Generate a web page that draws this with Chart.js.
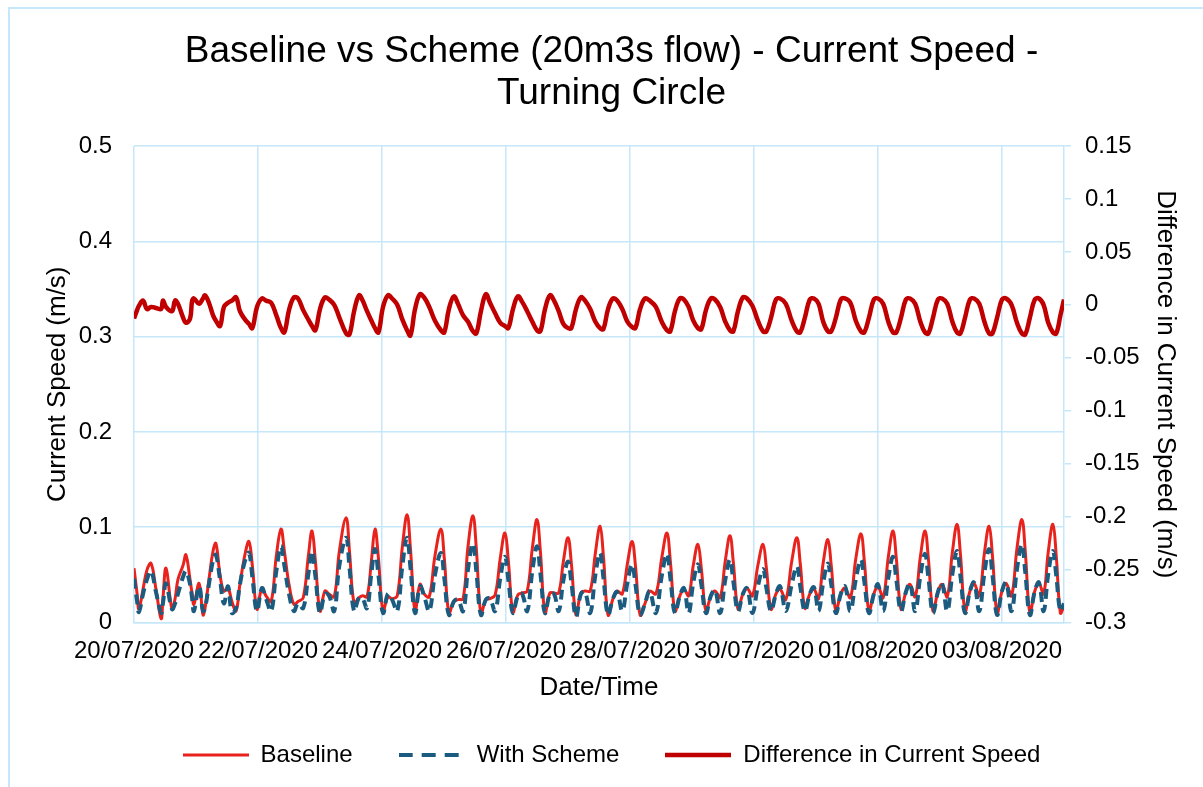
<!DOCTYPE html>
<html>
<head>
<meta charset="utf-8">
<script src="https://cdn.jsdelivr.net/npm/chart.js@4"></script>
<style>
  html, body { margin: 0; padding: 0; background: #fff; }
  #wrap { position: relative; width: 1203px; height: 787px; overflow: hidden; }
  #frame { position: absolute; left: 8px; top: 7px; width: 1400px; height: 1000px;
           border-left: 2px solid #c5e7f9; border-top: 2px solid #c5e7f9; }
  canvas { position: absolute; left: 0; top: 0; }
</style>
</head>
<body>
<div id="wrap">
  <div id="frame"></div>
  <canvas id="chart" width="1203" height="787"></canvas>
</div>
<script>
// chart text
const titleLines = ['Baseline vs Scheme (20m3s flow) - Current Speed -', 'Turning Circle'];
const seriesNames = ['Baseline', 'With Scheme', 'Difference in Current Speed'];

// x axis: hours since 20/07/2020 00:00
const xTickHours = [0, 48, 96, 144, 192, 240, 288, 336];
const xTickLabels = ['20/07/2020', '22/07/2020', '24/07/2020', '26/07/2020',
                     '28/07/2020', '30/07/2020', '01/08/2020', '03/08/2020'];
const leftTicks = [0, 0.1, 0.2, 0.3, 0.4, 0.5];
const leftTickLabels = ['0', '0.1', '0.2', '0.3', '0.4', '0.5'];
const rightTicks = [-0.3, -0.25, -0.2, -0.15, -0.1, -0.05, 0, 0.05, 0.1, 0.15];
const rightTickLabels = ['-0.3', '-0.25', '-0.2', '-0.15', '-0.1', '-0.05', '0', '0.05', '0.1', '0.15'];

// sample times (hours)
const hours = [
  0, 1.2, 1.9, 3.5, 5.0, 6.6, 8.5, 10.5, 11.2, 12.4, 14.7, 15.9, 17.0, 19.0, 20.1, 21.7,
  22.5, 23.2, 25.2, 26.7, 27.5, 29.0, 30.6, 31.7, 33.3, 34.8, 36.4, 37.9, 39.5, 41.0, 43.0,
  44.5, 45.8, 47.6, 49.5, 51.1, 53.1, 55.1,
  56.9, 58.2, 60.0, 61.9, 63.5, 65.5, 67.5,
  68.9, 70.2, 72.0, 73.9, 75.5, 77.5, 79.5,
  82.1, 83.4, 85.2, 87.1, 88.5, 90.2, 91.9,
  93.3, 94.6, 96.4, 98.3, 99.9, 101.9, 103.9,
  105.7, 107.0, 108.8, 110.7, 112.3, 114.3, 116.5,
  118.8, 120.1, 121.9, 123.8, 125.4, 127.4, 129.3,
  131.2, 132.5, 134.3, 136.2, 137.8, 139.8, 141.8,
  143.6, 144.9, 146.7, 148.6, 150.2, 152.2, 154.2,
  156.0, 157.3, 159.1, 161.0, 162.6, 164.4, 166.2,
  168.0, 169.3, 171.1, 173.0, 174.6, 176.6, 178.6,
  180.4, 181.7, 183.5, 185.4, 187.0, 189.0, 191.0,
  192.8, 194.1, 195.9, 197.8, 199.6, 202.0, 204.3,
  206.3, 207.6, 209.4, 211.3, 212.9, 214.7, 216.5,
  218.3, 219.6, 221.4, 223.3, 224.9, 226.9, 228.9,
  230.7, 232.0, 233.8, 235.7, 237.3, 239.4, 241.5,
  243.5, 244.8, 246.6, 248.5, 250.1, 252.3, 254.6,
  256.6, 257.9, 259.7, 261.6, 263.2, 265.0, 266.8,
  268.6, 269.9, 271.7, 273.6, 275.2, 277.3, 279.4,
  281.4, 282.7, 284.5, 286.4, 288.0, 290.0, 292.0,
  293.8, 295.1, 296.9, 298.8, 300.4, 302.4, 304.4,
  306.2, 307.5, 309.3, 311.2, 312.8, 314.8, 316.8,
  318.6, 319.9, 321.7, 323.6, 325.2, 327.2, 329.2,
  331.0, 332.3, 334.1, 336.0, 337.6, 339.7, 341.8,
  343.7, 345.0, 346.8, 348.7, 350.3, 352.1, 353.9,
  355.7, 357.0, 358.6, 360.0
];

// current speed (m/s), left axis
const baseline = [
  .057, .030, .014, .035, .055, .062, .035, .004, .025, .057, .014, .025, .045, .060, .071, .045,
  .030, .019, .041, .008, .015, .045, .075, .083, .050, .033, .036, .022, .012, .040, .072,
  .085, .060, .014, .036, .028, .022, .070,
  .098, .075, .040, .019, .022, .026, .070,
  .096, .065, .012, .033, .030, .027, .075,
  .110, .075, .020, .026, .028, .027, .065,
  .098, .068, .012, .027, .025, .028, .080,
  .113, .078, .012, .040, .030, .027, .070,
  .098, .068, .010, .022, .024, .025, .080,
  .112, .078, .009, .024, .025, .029, .068,
  .094, .065, .011, .029, .031, .033, .078,
  .108, .075, .010, .031, .031, .031, .064,
  .089, .062, .008, .031, .033, .033, .073,
  .101, .070, .008, .025, .033, .030, .062,
  .085, .060, .008, .020, .033, .030, .068,
  .094, .065, .012, .028, .035, .028, .060,
  .082, .057, .012, .028, .033, .026, .065,
  .091, .063, .014, .030, .036, .028, .060,
  .082, .057, .014, .030, .035, .024, .064,
  .089, .062, .015, .030, .035, .025, .063,
  .087, .060, .012, .030, .036, .026, .067,
  .093, .065, .012, .030, .038, .026, .069,
  .096, .067, .014, .032, .040, .027, .069,
  .096, .067, .012, .032, .040, .027, .074,
  .103, .072, .012, .033, .041, .028, .073,
  .101, .070, .010, .033, .041, .028, .078,
  .108, .075, .010, .033, .041, .030, .074,
  .103, .070, .010, .017
];

const withScheme = [
  .046, .022, .011, .030, .045, .054, .032, .010, .020, .041, .014, .020, .030, .048, .054, .040,
  .025, .012, .038, .012, .015, .040, .065, .071, .045, .020, .038, .010, .015, .040, .065,
  .073, .048, .012, .036, .025, .012, .054,
  .080, .060, .030, .012, .020, .015, .051,
  .075, .049, .010, .030, .028, .012, .060,
  .089, .058, .012, .026, .025, .015, .052,
  .077, .050, .010, .030, .024, .012, .060,
  .089, .058, .010, .038, .028, .012, .050,
  .073, .047, .008, .022, .024, .012, .056,
  .083, .054, .008, .024, .025, .012, .047,
  .069, .045, .010, .028, .030, .012, .054,
  .080, .052, .010, .030, .030, .012, .044,
  .064, .042, .006, .030, .032, .010, .050,
  .073, .047, .008, .025, .032, .012, .042,
  .061, .040, .008, .020, .033, .010, .049,
  .072, .047, .010, .028, .036, .010, .042,
  .061, .040, .010, .028, .034, .010, .045,
  .066, .043, .012, .030, .036, .010, .038,
  .056, .036, .012, .030, .038, .012, .040,
  .059, .038, .012, .030, .037, .012, .042,
  .062, .040, .010, .030, .038, .012, .045,
  .066, .043, .010, .030, .040, .012, .047,
  .069, .045, .012, .032, .041, .012, .049,
  .072, .047, .010, .032, .041, .012, .051,
  .075, .049, .010, .033, .042, .012, .052,
  .077, .050, .008, .033, .042, .012, .056,
  .082, .053, .008, .033, .042, .012, .051,
  .075, .049, .012, .020
];

// difference in current speed (m/s), right axis
const difference = [
  -.013, -.005, -.001, .004, -.004, -.002, -.003, -.004, .004, -.002, -.006, .004, .001, -.012, -.017, -.013,
  .004, .006, .001, .006, .009, .002, -.010, -.015, -.020, -.002, .002, .004, .007, -.006, -.014,
  -.018, -.022, -.002, .006, .004, .002, -.010,
  -.022, -.026, -.005, .007, .006, -.005, -.014,
  -.020, -.024, -.004, .007, .005, .000, -.012,
  -.027, -.028, -.006, .009, .004, -.006, -.015,
  -.022, -.026, -.002, .009, .006, .000, -.014,
  -.024, -.029, -.004, .010, .007, -.002, -.015,
  -.024, -.026, -.004, .008, .001, -.010, -.016,
  -.025, -.027, -.006, .010, .002, -.008, -.017,
  -.020, -.022, -.004, .008, .003, -.006, -.016,
  -.024, -.025, -.004, .009, .004, -.006, -.018,
  -.022, -.022, -.004, .007, .004, -.004, -.016,
  -.022, -.023, -.004, .006, .004, -.004, -.016,
  -.021, -.022, -.004, .006, .004, -.002, -.016,
  -.024, -.025, -.006, .006, .005, -.002, -.015,
  -.022, -.023, -.005, .006, .005, -.002, -.016,
  -.024, -.025, -.006, .007, .006, -.001, -.015,
  -.025, -.025, -.012, .005, .006, .001, -.015,
  -.025, -.026, -.012, .005, .006, .001, -.016,
  -.025, -.025, -.012, .005, .006, .002, -.015,
  -.025, -.026, -.012, .005, .006, .001, -.016,
  -.026, -.026, -.012, .005, .006, .001, -.016,
  -.026, -.027, -.012, .005, .006, .001, -.016,
  -.026, -.027, -.012, .005, .006, .001, -.016,
  -.027, -.027, -.012, .005, .006, .000, -.017,
  -.027, -.028, -.012, .005, .006, .000, -.017,
  -.026, -.027, -.010, .005
];

const GRID = '#c5e7f9';
const COLORS = ['#e8231e', '#1b5b80', '#c00000'];
const WIDTHS = [3, 4, 4.5];
const DASHES = [[], [10, 6], []];
Chart.defaults.font.family = "'Liberation Sans', Arial, sans-serif";
Chart.defaults.color = '#000';

function toPoints(vals) {
  return hours.map((h, i) => ({ x: h, y: vals[i] }));
}

// small line images for the legend, so the dashed one stays dashed
function legendLine(i) {
  const c = document.createElement('canvas');
  c.width = 66;
  c.height = 8;
  const g = c.getContext('2d');
  g.strokeStyle = COLORS[i];
  g.lineWidth = WIDTHS[i];
  g.setLineDash(i === 1 ? [14, 9] : []);
  g.beginPath();
  g.moveTo(0, 4);
  g.lineTo(66, 4);
  g.stroke();
  return c;
}
const legendIcons = [legendLine(0), legendLine(1), legendLine(2)];

const ctx = document.getElementById('chart').getContext('2d');
new Chart(ctx, {
  type: 'line',
  data: {
    datasets: [{
      label: seriesNames[0],
      data: toPoints(baseline),
      borderColor: COLORS[0],
      borderWidth: WIDTHS[0],
      yAxisID: 'y',
      order: 2
    }, {
      label: seriesNames[1],
      data: toPoints(withScheme),
      borderColor: COLORS[1],
      borderWidth: WIDTHS[1],
      borderDash: DASHES[1],
      yAxisID: 'y',
      order: 1
    }, {
      label: seriesNames[2],
      data: toPoints(difference),
      borderColor: COLORS[2],
      borderWidth: WIDTHS[2],
      yAxisID: 'y1',
      order: 0
    }]
  },
  options: {
    responsive: false,
    animation: false,
    elements: {
      point: { radius: 0 },
      line: { tension: 0.4, borderJoinStyle: 'round', fill: false }
    },
    layout: { padding: { left: 20, right: 0, top: 0, bottom: 10 } },
    plugins: {
      tooltip: { enabled: false },
      title: {
        display: true,
        text: titleLines,
        color: '#000',
        font: { size: 37, weight: 'normal', lineHeight: 1.135 },
        padding: { top: 31, bottom: 31 }
      },
      legend: {
        position: 'bottom',
        labels: {
          usePointStyle: true,
          pointStyleWidth: 66,
          padding: 46,
          color: '#000',
          font: { size: 24 },
          sort: (a, b) => a.datasetIndex - b.datasetIndex,
          generateLabels: chart => {
            const items = Chart.defaults.plugins.legend.labels.generateLabels(chart);
            items.forEach(it => { it.pointStyle = legendIcons[it.datasetIndex]; });
            return items;
          }
        }
      }
    },
    scales: {
      x: {
        type: 'linear',
        min: 0,
        max: 360,
        afterBuildTicks: s => { s.ticks = xTickHours.map(v => ({ value: v })); },
        afterFit: s => { s.height = 74.5; },
        grid: { color: GRID, lineWidth: 1.5, drawTicks: false },
        border: { color: GRID, width: 1.5 },
        ticks: {
          autoSkip: false, maxRotation: 0, minRotation: 0, padding: 14,
          font: { size: 24 },
          callback: (v, i) => xTickLabels[i]
        },
        title: { display: true, text: 'Date/Time', font: { size: 26 }, padding: { top: 0, bottom: -6 } }
      },
      y: {
        position: 'left',
        min: 0,
        max: 0.5,
        afterBuildTicks: s => { s.ticks = leftTicks.map(v => ({ value: v })); },
        afterFit: s => { s.width = 114; },
        grid: { color: GRID, lineWidth: 1.5, drawTicks: false },
        border: { display: false },
        ticks: { padding: 22, font: { size: 24 }, callback: (v, i) => leftTickLabels[i] },
        title: { display: true, text: 'Current Speed (m/s)', font: { size: 26 }, padding: { top: 22, bottom: 0 } }
      },
      y1: {
        position: 'right',
        min: -0.3,
        max: 0.15,
        afterBuildTicks: s => { s.ticks = rightTicks.map(v => ({ value: v })); },
        afterFit: s => { s.width = 139; },
        grid: { drawOnChartArea: false, color: GRID, lineWidth: 1.5, tickLength: 7 },
        border: { color: GRID, width: 1.5 },
        ticks: { padding: 14, font: { size: 24 }, callback: (v, i) => rightTickLabels[i] },
        title: { display: true, text: 'Difference in Current Speed (m/s)', font: { size: 26 }, padding: { top: 22, bottom: 0 } }
      }
    }
  }
});
</script>
</body>
</html>
